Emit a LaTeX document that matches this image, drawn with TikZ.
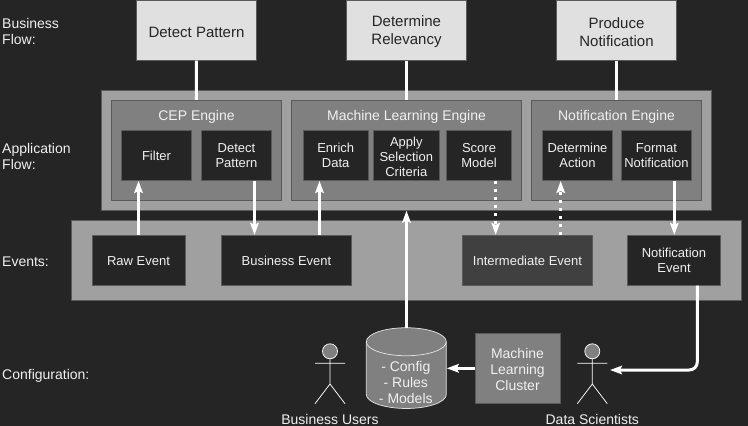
\documentclass[tikz,border=0pt]{standalone}
\usepackage{fontspec}
\setmainfont{Liberation Sans}
\usepackage{xcolor}
\usetikzlibrary{
    arrows.meta,
    calc,
    positioning
}
\definecolor{canvas}{HTML}{252525}
\definecolor{pale}{HTML}{E0E0E0}
\definecolor{lettering}{HTML}{F0F0F0}
\definecolor{midgrey}{HTML}{A0A0A0}
\definecolor{engine}{HTML}{808080}
\definecolor{edging}{HTML}{5A5A5A}
\definecolor{intergrey}{HTML}{404040}
\tikzset{
    lift/.style={execute at begin node={\rule{0pt}{#1}}},
    block/.style={draw=edging, line width=0.75pt, inner sep=0pt, align=center, text=lettering},
    flowbox/.style={block, fill=pale, text=canvas, font=\fontsize{15}{18}\selectfont, lift=14pt},
    outerband/.style={block, fill=midgrey},
    enginebox/.style={block, fill=engine},
    darkbox/.style={block, fill=canvas, font=\fontsize{13}{15}\selectfont, lift=11.5pt},
    rowlabel/.style={anchor=west, align=left, text=lettering, inner sep=0pt, font=\fontsize{14}{16}\selectfont},
    enginelabel/.style={align=center, text=lettering, inner sep=0pt, font=\fontsize{14}{16}\selectfont},
    flowline/.style={draw=white, line width=3pt},
    flowarrow/.style={flowline, -{Stealth[length=12pt, width=8.5pt, inset=2pt]}},
    dottedarrow/.style={flowarrow, dash pattern=on 3pt off 5pt}
}
\begin{document}
\begin{tikzpicture}[x=1pt, y=-1pt]
    \useasboundingbox[fill=canvas] (0, 0) rectangle (748, 426);
    \node[rowlabel] (lbusiness) at (2, 31.5) {Business\\Flow:};
    \node[rowlabel] (lapplication) at (2, 156.5) {Application\\Flow:};
    \node[rowlabel] (levents) at (2, 262) {Events:};
    \node[rowlabel] (lconfig) at (2, 376) {Configuration:};

    \node[flowbox, minimum width=120pt, minimum height=60pt] (bdetect) at (196.5, 30.3) {Detect Pattern};
    \node[flowbox, lift=32pt, minimum width=120pt, minimum height=60pt] (brelevancy) at (406.5, 30.3) {Determine\\Relevancy};
    \node[flowbox, lift=32pt, minimum width=120pt, minimum height=60pt] (bproduce) at (616.5, 30.3) {Produce\\Notification};

    \node[outerband, minimum width=610pt, minimum height=120pt] (appband) at (406.3, 150.3) {};
    \node[enginebox, minimum width=170.5pt, minimum height=100pt] (cep) at (196.4, 150.3) {};
    \node[enginebox, minimum width=230.5pt, minimum height=100pt] (mlengine) at (406.5, 150.3) {};
    \node[enginebox, minimum width=170.5pt, minimum height=100pt] (notifengine) at (616.5, 150.3) {};
    \node[enginelabel] (lcep) at (196.5, 116.5) {CEP Engine};
    \node[enginelabel] (lmlengine) at (406.5, 116.5) {Machine Learning Engine};
    \node[enginelabel] (lnotifengine) at (616.5, 116.5) {Notification Engine};

    \node[darkbox, minimum width=70.5pt, minimum height=50.5pt] (filter) at (156.5, 155.3) {Filter};
    \node[darkbox, minimum width=70.5pt, minimum height=50.5pt] (detect) at (236.5, 155.3) {Detect\\Pattern};
    \node[darkbox, minimum width=65.5pt, minimum height=50.5pt] (enrich) at (335.7, 155.3) {Enrich\\Data};
    \node[darkbox, lift=42pt, minimum width=65.5pt, minimum height=50.5pt] (apply) at (406.3, 155.3) {Apply\\Selection\\Criteria};
    \node[darkbox, minimum width=65.5pt, minimum height=50.5pt] (score) at (479, 155.3) {Score\\Model};
    \node[darkbox, minimum width=70.5pt, minimum height=50.5pt] (action) at (577.5, 155.3) {Determine\\Action};
    \node[darkbox, minimum width=70.5pt, minimum height=50.5pt] (format) at (656.5, 155.3) {Format\\Notification};

    \node[outerband, minimum width=670.5pt, minimum height=80pt] (eventband) at (406.5, 260.3) {};
    \node[darkbox, minimum width=93pt, minimum height=50pt] (raw) at (138.5, 260.3) {Raw Event};
    \node[darkbox, minimum width=130.5pt, minimum height=50pt] (business) at (286.5, 260.3) {Business Event};
    \node[darkbox, fill=intergrey, minimum width=130.5pt, minimum height=50pt] (intermediate) at (527.5, 260.3) {Intermediate Event};
    \node[darkbox, minimum width=93.5pt, minimum height=50pt] (notifevent) at (674, 260.3) {Notification\\Event};

    \node[minimum width=80pt, minimum height=80.7pt, inner sep=0pt] (store) at (406.5, 368.3) {};
    \draw[draw=pale, fill=engine, line width=0.75pt]
    (store.north west) ++(0, 14) arc[start angle=180, end angle=0, x radius=40pt, y radius=14pt]
    -- ++(0, 52.7) arc[start angle=0, end angle=-180, x radius=40pt, y radius=14pt] -- cycle;
    \draw[draw=pale, line width=0.75pt]
    (store.north west) ++(0, 14) arc[start angle=180, end angle=360, x radius=40pt, y radius=14pt];
    \node[enginelabel] (lstore) at (405.8, 382) {- Config\\- Rules\\- Models};
    \node[enginebox, lift=44pt, minimum width=85pt, minimum height=70pt, font=\fontsize{14}{16}\selectfont] (cluster) at (517.5, 368.3) {Machine\\Learning\\Cluster};

    \begin{scope}[shift={(330, 0)}]
        \node[circle, draw=white, fill=engine, line width=0.75pt, minimum size=15pt, inner sep=0pt] (uhead) at (0, 351.3) {};
        \draw[white, line width=0.75pt]
        (uhead.south) -- (0, 384) -- (-15, 403.7)
        (0, 384) -- (15, 403.7)
        (-15, 363.3) -- (15, 363.3);
        \node[enginelabel] (lusers) at (0, 419.5) {Business Users};
    \end{scope}
    \begin{scope}[shift={(592.3, 0)}]
        \node[circle, draw=white, fill=engine, line width=0.75pt, minimum size=15pt, inner sep=0pt] (dhead) at (0, 351.3) {};
        \draw[white, line width=0.75pt]
        (dhead.south) -- (0, 384) -- (-15, 403.7)
        (0, 384) -- (15, 403.7)
        (-15, 363.3) -- (15, 363.3);
        \node[enginelabel] (lscientists) at (0, 419.5) {Data Scientists};
        \coordinate (scientist) at (17.7, 370);
    \end{scope}

    \coordinate (detectout) at ($(detect.south)+(18, 0)$);
    \coordinate (businessout) at ($(business.north)+(33, 0)$);
    \coordinate (scoreout) at ($(score.south)+(16.7, 0)$);
    \coordinate (interout) at ($(intermediate.north)+(33.2, 0)$);
    \coordinate (formatout) at ($(format.south)+(17.8, 0)$);
    \coordinate (notifout) at ($(notifevent.south)+(23.3, 0)$);

    \draw[flowline] (bdetect.south) -- (cep.north);
    \draw[flowline] (brelevancy.south) -- (mlengine.north);
    \draw[flowline] (bproduce.south) -- (notifengine.north);
    \draw[flowarrow] (raw.north) -- (raw.north |- filter.south);
    \draw[flowarrow] (detectout) -- (detectout |- business.north);
    \draw[flowarrow] (businessout) -- (businessout |- enrich.south);
    \draw[flowarrow] (store.north) -- (store.north |- appband.south);
    \draw[dottedarrow] (scoreout) -- (scoreout |- intermediate.north);
    \draw[dottedarrow] (interout) -- (interout |- action.south);
    \draw[flowarrow] (formatout) -- (formatout |- notifevent.north);
    \draw[flowarrow, rounded corners=8pt] (notifout) |- (scientist);
    \draw[flowarrow] (cluster.west) -- (store.east |- cluster.west);
\end{tikzpicture}
\end{document}
